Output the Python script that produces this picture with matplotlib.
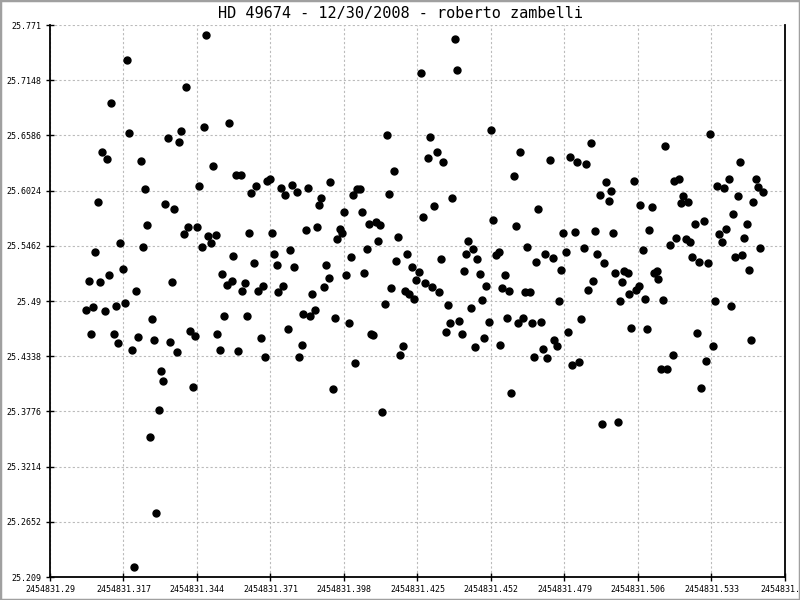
import matplotlib.pyplot as plt
from matplotlib.patches import Rectangle
import numpy as np

jd0 = 2454831.0

# time (fraction of JD after 2454831) and magnitude
jd_frac = [
    0.3033, 0.3044, 0.3052, 0.3059, 0.3066, 0.3077, 0.3085, 0.3092, 0.3103, 0.3110,
    0.3118, 0.3124, 0.3136, 0.3144, 0.3151, 0.3157, 0.3169, 0.3177, 0.3183, 0.3190,
    0.3202, 0.3210, 0.3216, 0.3224, 0.3234, 0.3243, 0.3250, 0.3257, 0.3267, 0.3276,
    0.3283, 0.3290, 0.3300, 0.3309, 0.3316, 0.3324, 0.3333, 0.3342, 0.3349, 0.3357,
    0.3365, 0.3374, 0.3381, 0.3393, 0.3401, 0.3408, 0.3415, 0.3426, 0.3434, 0.3441,
    0.3448, 0.3459, 0.3467, 0.3474, 0.3480, 0.3493, 0.3500, 0.3509, 0.3515, 0.3526,
    0.3533, 0.3540, 0.3549, 0.3559, 0.3567, 0.3573, 0.3583, 0.3592, 0.3601, 0.3606,
    0.3617, 0.3625, 0.3632, 0.3639, 0.3650, 0.3657, 0.3665, 0.3674, 0.3684, 0.3690,
    0.3698, 0.3708, 0.3717, 0.3724, 0.3733, 0.3739, 0.3750, 0.3757, 0.3764, 0.3775,
    0.3783, 0.3789, 0.3797, 0.3808, 0.3816, 0.3825, 0.3831, 0.3840, 0.3849, 0.3856,
    0.3864, 0.3875, 0.3882, 0.3889, 0.3897, 0.3908, 0.3915, 0.3924, 0.3930, 0.3940,
    0.3948, 0.3955, 0.3965, 0.3973, 0.3980, 0.3988, 0.3999, 0.4007, 0.4013, 0.4022,
    0.4028, 0.4040, 0.4046, 0.4055, 0.4066, 0.4073, 0.4078, 0.4088, 0.4099, 0.4106,
    0.4113, 0.4121, 0.4132, 0.4139, 0.4145, 0.4153, 0.4165, 0.4172, 0.4178, 0.4187,
    0.4198, 0.4205, 0.4211, 0.4220, 0.4231, 0.4238, 0.4245, 0.4257, 0.4263, 0.4271,
    0.4279, 0.4290, 0.4296, 0.4304, 0.4312, 0.4323, 0.4330, 0.4337, 0.4345, 0.4356,
    0.4362, 0.4369, 0.4378, 0.4389, 0.4396, 0.4402, 0.4415, 0.4422, 0.4429, 0.4436,
    0.4448, 0.4455, 0.4461, 0.4470, 0.4481, 0.4488, 0.4495, 0.4502, 0.4514, 0.4521,
    0.4528, 0.4538, 0.4548, 0.4554, 0.4562, 0.4571, 0.4580, 0.4587, 0.4595, 0.4605,
    0.4612, 0.4620, 0.4628, 0.4639, 0.4644, 0.4653, 0.4662, 0.4671, 0.4679, 0.4686,
    0.4694, 0.4705, 0.4711, 0.4719, 0.4727, 0.4737, 0.4747, 0.4751, 0.4762, 0.4771,
    0.4778, 0.4786, 0.4796, 0.4804, 0.4811, 0.4819, 0.4829, 0.4837, 0.4844, 0.4852,
    0.4863, 0.4870, 0.4877, 0.4888, 0.4896, 0.4903, 0.4911, 0.4922, 0.4928, 0.4936,
    0.4944, 0.4955, 0.4961, 0.4969, 0.4977, 0.4988, 0.4994, 0.5002, 0.5009, 0.5022,
    0.5028, 0.5034, 0.5046, 0.5054, 0.5063, 0.5067, 0.5079, 0.5087, 0.5094, 0.5102,
    0.5113, 0.5120, 0.5129, 0.5135, 0.5146, 0.5153, 0.5160, 0.5168, 0.5179, 0.5187,
    0.5192, 0.5200, 0.5212, 0.5218, 0.5226, 0.5236, 0.5245, 0.5252, 0.5259, 0.5271,
    0.5278, 0.5285, 0.5293, 0.5302, 0.5311, 0.5318, 0.5326, 0.5337, 0.5344, 0.5351,
    0.5359, 0.5370, 0.5377, 0.5384, 0.5395, 0.5403, 0.5410, 0.5417, 0.5428, 0.5435,
    0.5442, 0.5451, 0.5462, 0.5469, 0.5475, 0.5484, 0.5493, 0.5501, 0.5508, 0.5520,
]

mag = [
    25.4805, 25.5099, 25.4561, 25.4842, 25.5394, 25.5906, 25.5092, 25.6417, 25.4795, 25.6344,
    25.5161, 25.6917, 25.4561, 25.4847, 25.4468, 25.5488, 25.5225, 25.4876, 25.7355, 25.6610,
    25.4398, 25.2187, 25.4999, 25.4532, 25.6325, 25.5450, 25.6039, 25.5672, 25.3513, 25.4713,
    25.4499, 25.2738, 25.3787, 25.4183, 25.4083, 25.5887, 25.6558, 25.4480, 25.5092, 25.5836,
    25.4377, 25.6517, 25.6629, 25.5580, 25.7077, 25.5655, 25.4590, 25.4021, 25.4539, 25.5655,
    25.6069, 25.5446, 25.6669, 25.7605, 25.5557, 25.5488, 25.6273, 25.5569, 25.4569, 25.4398,
    25.5172, 25.4743, 25.5061, 25.6710, 25.5099, 25.5358, 25.6183, 25.4388, 25.6183, 25.4999,
    25.5080, 25.4743, 25.5591, 25.5999, 25.5284, 25.6069, 25.4999, 25.4521, 25.5050, 25.4327,
    25.6117, 25.6139, 25.5591, 25.5376, 25.5271, 25.4988, 25.6047, 25.5050, 25.5977, 25.4614,
    25.5417, 25.6081, 25.5247, 25.6005, 25.4327, 25.4457, 25.4765, 25.5621, 25.6050, 25.4743,
    25.4969, 25.4813, 25.5655, 25.5876, 25.5951, 25.5043, 25.5271, 25.5135, 25.6110, 25.4002,
    25.4725, 25.5528, 25.5635, 25.5588, 25.5802, 25.5161, 25.4680, 25.5347, 25.5977, 25.4265,
    25.6039, 25.6039, 25.5802, 25.5183, 25.5428, 25.5683, 25.4569, 25.4550, 25.5705, 25.5509,
    25.5672, 25.3768, 25.4866, 25.6588, 25.5988, 25.5033, 25.6221, 25.5305, 25.5550, 25.4354,
    25.4439, 25.4999, 25.5376, 25.4969, 25.5247, 25.4917, 25.5110, 25.5191, 25.7221, 25.5754,
    25.5083, 25.6355, 25.6570, 25.5043, 25.5866, 25.6417, 25.4991, 25.5327, 25.6313, 25.4580,
    25.4858, 25.4672, 25.5946, 25.7567, 25.7251, 25.4694, 25.4561, 25.5202, 25.5376, 25.5516,
    25.4827, 25.5428, 25.4432, 25.5324, 25.5172, 25.4910, 25.4521, 25.5050, 25.4683, 25.6639,
    25.5722, 25.5366, 25.5399, 25.4450, 25.5033, 25.5161, 25.4725, 25.5005, 25.3968, 25.6172,
    25.5661, 25.4672, 25.6417, 25.4725, 25.4991, 25.5450, 25.4991, 25.4672, 25.4327, 25.5295,
    25.5836, 25.4683, 25.4409, 25.5376, 25.4321, 25.6336, 25.5339, 25.4506, 25.4439, 25.4905,
    25.5214, 25.5591, 25.5394, 25.4580, 25.6369, 25.4247, 25.5599, 25.6313, 25.4276, 25.4713,
    25.5439, 25.6294, 25.5010, 25.6506, 25.5102, 25.5610, 25.5376, 25.5977, 25.3643, 25.5284,
    25.6110, 25.5914, 25.6017, 25.5591, 25.5183, 25.3665, 25.4898, 25.5092, 25.5202, 25.5183,
    25.4969, 25.4624, 25.6121, 25.5016, 25.5050, 25.5876, 25.5417, 25.4921, 25.4614, 25.5628,
    25.5855, 25.5183, 25.5205, 25.5124, 25.4209, 25.4910, 25.6477, 25.4209, 25.5469, 25.4349,
    25.6127, 25.5539, 25.6139, 25.5895, 25.5969, 25.5533, 25.5906, 25.5499, 25.5350, 25.5683,
    25.4572, 25.5299, 25.4013, 25.5714, 25.4287, 25.5288, 25.6602, 25.4439, 25.4898, 25.6069,
    25.5580, 25.5499, 25.6050, 25.5638, 25.6139, 25.4847, 25.5784, 25.5347, 25.5969, 25.6313,
    25.5366, 25.5539, 25.5683, 25.5214, 25.4502, 25.5906, 25.6139, 25.6061, 25.5439, 25.6009,
]

x_ticks = [0.29, 0.317, 0.344, 0.371, 0.398, 0.425, 0.452, 0.479, 0.506, 0.533, 0.56]
x_labels = ["2454831.29", "2454831.317", "2454831.344", "2454831.371", "2454831.398",
            "2454831.425", "2454831.452", "2454831.479", "2454831.506", "2454831.533",
            "2454831.56"]
y_ticks = [25.771, 25.7148, 25.6586, 25.6024, 25.5462, 25.49, 25.4338, 25.3776,
           25.3214, 25.2652, 25.209]
y_labels = ["25.771", "25.7148", "25.6586", "25.6024", "25.5462", "25.49", "25.4338",
            "25.3776", "25.3214", "25.2652", "25.209"]

plt.rcParams['font.family'] = ['DejaVu Sans Mono']

fig = plt.figure(figsize=(8, 6), dpi=100)
fig.patches.append(Rectangle((0, 0), 1, 1, transform=fig.transFigure, fill=False,
                             edgecolor='#a0a0a0', linewidth=2.5))
ax = fig.add_axes([0.0625, 0.0383, 0.91875, 0.92])

ax.plot(jd0 + np.array(jd_frac), mag, 'o', color='black', markersize=5, zorder=3)

ax.set_xlim(jd0 + x_ticks[0], jd0 + x_ticks[-1])
ax.set_ylim(y_ticks[-1], y_ticks[0])
ax.set_xticks([jd0 + v for v in x_ticks])
ax.set_xticklabels(x_labels)
ax.set_yticks(y_ticks)
ax.set_yticklabels(y_labels)
ax.tick_params(direction='inout', length=6, width=1, labelsize=6, pad=3)

ax.grid(True, color='#bbbbbb', linestyle=(0, (2, 2)), linewidth=0.8)
ax.set_axisbelow(True)
ax.spines['top'].set_visible(False)
for s in ['left', 'bottom', 'right']:
    ax.spines[s].set_linewidth(1.3)

fig.text(0.5, 0.978, "HD 49674 - 12/30/2008 - roberto zambelli",
         ha='center', va='center', fontsize=11)

fig.savefig("out.png", dpi=100)
